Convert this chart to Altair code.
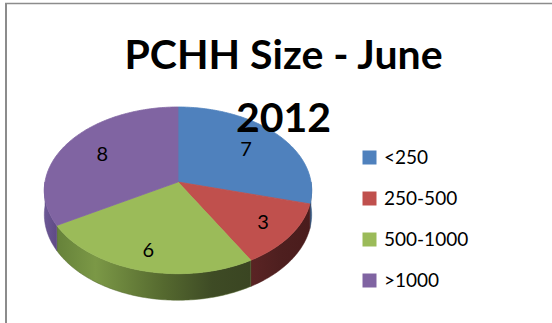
import numpy as np
import pandas as pd
import altair as alt

# ---- data ----
categories = ["<250", "250-500", "500-1000", ">1000"]
values = [7, 3, 6, 8]
top_colors = ["#4f81bd", "#c0504d", "#9bbb59", "#8064a2"]
title_lines = ["PCHH Size - June", "2012"]

# ---- 3D look (styling) ----
PERSP = 0.1        # perspective factor
DEPTH = 0.29       # pie thickness in y units
LABEL_FRAC = 0.72  # label distance from centre (fraction of radius)
LABEL_DEPTH = 0.08 # labels at the front sit a little further out


def project(theta_deg, r=1.0):
    t = np.radians(theta_deg)
    u = r * np.sin(t)
    v = -r * np.cos(t)
    s = 1.0 / (1.0 - PERSP * v)
    return u * s, v * s, s


total = float(sum(values))
starts = np.concatenate([[0.0], np.cumsum(values)[:-1]]) / total * 360.0
ends = np.cumsum(values) / total * 360.0

top_rows, side_rows, label_rows = [], [], []
for cat, a, b, val in zip(categories, starts, ends, values):
    n = int(np.ceil(b - a)) + 1
    thetas = np.linspace(a, b, n)
    k = 0
    top_rows.append(dict(slice=cat, i=k, X=0.0, Y=0.0)); k += 1
    for th in thetas:
        X, Y, s = project(th)
        top_rows.append(dict(slice=cat, i=k, X=X, Y=-Y)); k += 1
    top_rows.append(dict(slice=cat, i=k, X=0.0, Y=0.0))

    lo, hi = max(a, 90.0), min(b, 270.0)
    if lo < hi:
        m = int(np.ceil(hi - lo)) + 1
        th_s = np.linspace(lo, hi, m)
        k = 0
        for th in th_s:
            X, Y, s = project(th)
            side_rows.append(dict(slice=cat, i=k, X=X, Y=-Y)); k += 1
        for th in th_s[::-1]:
            X, Y, s = project(th)
            side_rows.append(dict(slice=cat, i=k, X=X, Y=-(Y + DEPTH * s))); k += 1
        X, Y, s = project(th_s[0])
        side_rows.append(dict(slice=cat, i=k, X=X, Y=-Y))

    mid = (a + b) / 2.0
    frac = LABEL_FRAC - LABEL_DEPTH * np.cos(np.radians(mid))
    X, Y, s = project(mid, frac)
    label_rows.append(dict(slice=cat, value=val, X=X, Y=-Y))

top_df = pd.DataFrame(top_rows)
side_df = pd.DataFrame(side_rows)
label_df = pd.DataFrame(label_rows)

# scales: unit pie mapped to pixels (rx=133, ry=82.5, centre 178,182)
xs = alt.Scale(domain=[-1.3383, 2.8120], nice=False, zero=False)
ys = alt.Scale(domain=[-1.7091, 2.2061], nice=False, zero=False)
X_ = alt.X("X:Q", scale=xs, axis=None)
Y_ = alt.Y("Y:Q", scale=ys, axis=None)

color_scale = alt.Scale(domain=categories, range=top_colors)

side_grads = {
    "<250": [("#3d6494", 0), ("#33567f", 1)],
    "250-500": [("#5a2424", 0), ("#4e1f1f", 0.5), ("#4a1c1c", 1)],
    "500-1000": [("#66823a", 0), ("#7b9846", 0.2), ("#55692f", 0.55),
                 ("#3e4b25", 0.8), ("#3a4522", 1)],
    ">1000": [("#6c5896", 0), ("#5f4a85", 1)],
}

side_layers = []
for cat in categories:
    if cat not in set(side_df["slice"]):
        continue
    stops = [alt.GradientStop(color=c, offset=o) for c, o in side_grads[cat]]
    grad = alt.LinearGradient(gradient="linear", stops=stops, x1=0, x2=1, y1=0, y2=0)
    mid_col = side_grads[cat][len(side_grads[cat]) // 2][0]
    layer = (
        alt.Chart(side_df)
        .transform_filter(alt.datum.slice == cat)
        .mark_line(fill=grad, stroke=mid_col, strokeWidth=0.5)
        .encode(x=X_, y=Y_, order=alt.Order("i:Q"))
    )
    side_layers.append(layer)

top = (
    alt.Chart(top_df)
    .mark_line(strokeWidth=0.8)
    .encode(
        x=X_,
        y=Y_,
        order=alt.Order("i:Q"),
        detail="slice:N",
        fill=alt.Fill(
            "slice:N",
            scale=color_scale,
            title=None,
            legend=alt.Legend(
                orient="none",
                legendX=360,
                legendY=148,
                symbolType="square",
                symbolSize=196,
                symbolStrokeWidth=0,
                symbolOpacity=1,
                labelFont="Lato",
                labelFontSize=19,
                labelColor="black",
                labelOffset=5,
                rowPadding=21,
                padding=0,
            ),
        ),
        stroke=alt.Stroke("slice:N", scale=color_scale, legend=None),
    )
)

labels = (
    alt.Chart(label_df)
    .mark_text(font="Lato", fontSize=20, color="black", align="center", baseline="middle")
    .encode(x=X_, y=Y_, text="value:Q")
)

frame_df = pd.DataFrame({"k": [0]})
top_border = alt.Chart(frame_df).mark_rule(color="#8c8c8c", strokeWidth=1.5).encode(
    x=alt.value(5), x2=alt.value(552), y=alt.value(3.5), y2=alt.value(3.5)
)
left_border = alt.Chart(frame_df).mark_rule(color="#8c8c8c", strokeWidth=2).encode(
    x=alt.value(6), x2=alt.value(6), y=alt.value(3), y2=alt.value(323)
)

chart = (
    alt.layer(*side_layers, top, labels, top_border, left_border)
    .properties(
        width=552,
        height=323,
        padding=0,
        autosize=alt.AutoSizeParams(type="none"),
        background="white",
        title=alt.TitleParams(
            text=title_lines,
            font="Lato",
            fontSize=41,
            fontWeight="bold",
            color="black",
            anchor="middle",
            baseline="alphabetic",
            lineHeight=63,
            offset=0,
            dx=7.5,
            dy=173,
        ),
    )
    .configure_view(stroke="transparent")
)

chart.save("out.html", embed_options={"renderer": "svg", "actions": False})
